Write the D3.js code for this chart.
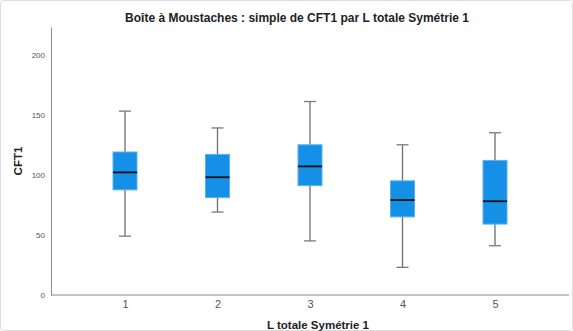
<!DOCTYPE html>
<html>
<head>
<meta charset="utf-8">
<script src="https://cdn.jsdelivr.net/npm/d3@7"></script>
<style>
  body { margin: 0; background: #fff; }
  svg { font-family: "Liberation Sans", Arial, sans-serif; }
</style>
</head>
<body>
<div id="chart"></div>
<script>
// data
const categories = ["1", "2", "3", "4", "5"];
const whiskerLow = [49, 69, 45, 23, 41];
const q1 = [87.5, 81, 91, 65, 59];
const medians = [102, 98, 107, 79, 78];
const q3 = [119, 117, 125, 95, 112];
const whiskerHigh = [153, 139, 161, 125, 135];
const yTicks = [0, 50, 100, 150, 200];

const width = 573, height = 331;
const margin = {top: 27, right: 4, bottom: 36, left: 51};

let svg = d3.select("#chart")
    .append("svg")
    .attr("width", width)
    .attr("height", height);

// faint frame round the whole picture
svg.append("rect")
    .attr("x", 0.5).attr("y", 0.5)
    .attr("width", width - 1).attr("height", height - 1)
    .attr("rx", 3)
    .attr("fill", "none")
    .attr("stroke", "#dcdcdc");

let x = d3.scalePoint()
    .domain(categories)
    .range([margin.left, width - margin.right])
    .padding(0.8);

let y = d3.scaleLinear()
    .domain([0, 223])
    .range([height - margin.bottom, margin.top]);

// y axis
let yAxis = svg.append("g")
    .attr("transform", `translate(${margin.left},0)`)
    .call(d3.axisLeft(y).tickValues(yTicks).tickSize(0).tickPadding(6));
yAxis.select(".domain").attr("stroke", "#8c8c8c");
yAxis.selectAll("text").attr("fill", "#555").style("font-size", "8px");

// x axis
let xAxis = svg.append("g")
    .attr("transform", `translate(0,${height - margin.bottom})`)
    .call(d3.axisBottom(x).tickSize(0).tickPadding(5));
xAxis.select(".domain")
    .attr("d", `M${margin.left},0H${width - margin.right}`)
    .attr("stroke", "#8c8c8c");
xAxis.selectAll("text").attr("fill", "#555").style("font-size", "11px");

let boxes = categories.map((c, i) => ({
    cat: c, lo: whiskerLow[i], q1: q1[i], med: medians[i], q3: q3[i], hi: whiskerHigh[i]
}));

const boxW = 24, capW = 12;

let g = svg.append("g");

// whiskers
g.selectAll("line.whisker").data(boxes).enter()
    .append("line")
    .attr("class", "whisker")
    .attr("x1", d => x(d.cat)).attr("x2", d => x(d.cat))
    .attr("y1", d => y(d.lo)).attr("y2", d => y(d.hi))
    .attr("stroke", "#6e6e6e").attr("stroke-width", 1.3);

["lo", "hi"].forEach(k => {
    g.selectAll("line.cap-" + k).data(boxes).enter()
        .append("line")
        .attr("class", "cap-" + k)
        .attr("x1", d => x(d.cat) - capW / 2).attr("x2", d => x(d.cat) + capW / 2)
        .attr("y1", d => y(d[k])).attr("y2", d => y(d[k]))
        .attr("stroke", "#7a7a7a").attr("stroke-width", 1.3);
});

// boxes
g.selectAll("rect.box").data(boxes).enter()
    .append("rect")
    .attr("class", "box")
    .attr("x", d => x(d.cat) - boxW / 2)
    .attr("y", d => y(d.q3))
    .attr("width", boxW)
    .attr("height", d => y(d.q1) - y(d.q3))
    .attr("fill", "#1490e6")
    .attr("stroke", "#5cb2f0")
    .attr("stroke-width", 1);

// medians
g.selectAll("line.median").data(boxes).enter()
    .append("line")
    .attr("class", "median")
    .attr("x1", d => x(d.cat) - boxW / 2).attr("x2", d => x(d.cat) + boxW / 2)
    .attr("y1", d => y(d.med)).attr("y2", d => y(d.med))
    .attr("stroke", "#111").attr("stroke-width", 1.8);

// titles
svg.append("text")
    .attr("x", 297).attr("y", 22)
    .attr("text-anchor", "middle")
    .style("font-size", "12px").style("font-weight", "bold")
    .attr("fill", "#222")
    .text("Boîte à Moustaches : simple de CFT1 par L totale Symétrie 1");

svg.append("text")
    .attr("transform", `translate(22,161) rotate(-90)`)
    .attr("text-anchor", "middle")
    .style("font-size", "11.5px").style("font-weight", "bold")
    .attr("fill", "#222")
    .text("CFT1");

svg.append("text")
    .attr("x", 318).attr("y", 329)
    .attr("text-anchor", "middle")
    .style("font-size", "11.5px").style("font-weight", "bold")
    .attr("fill", "#222")
    .text("L totale Symétrie 1");
</script>
</body>
</html>
